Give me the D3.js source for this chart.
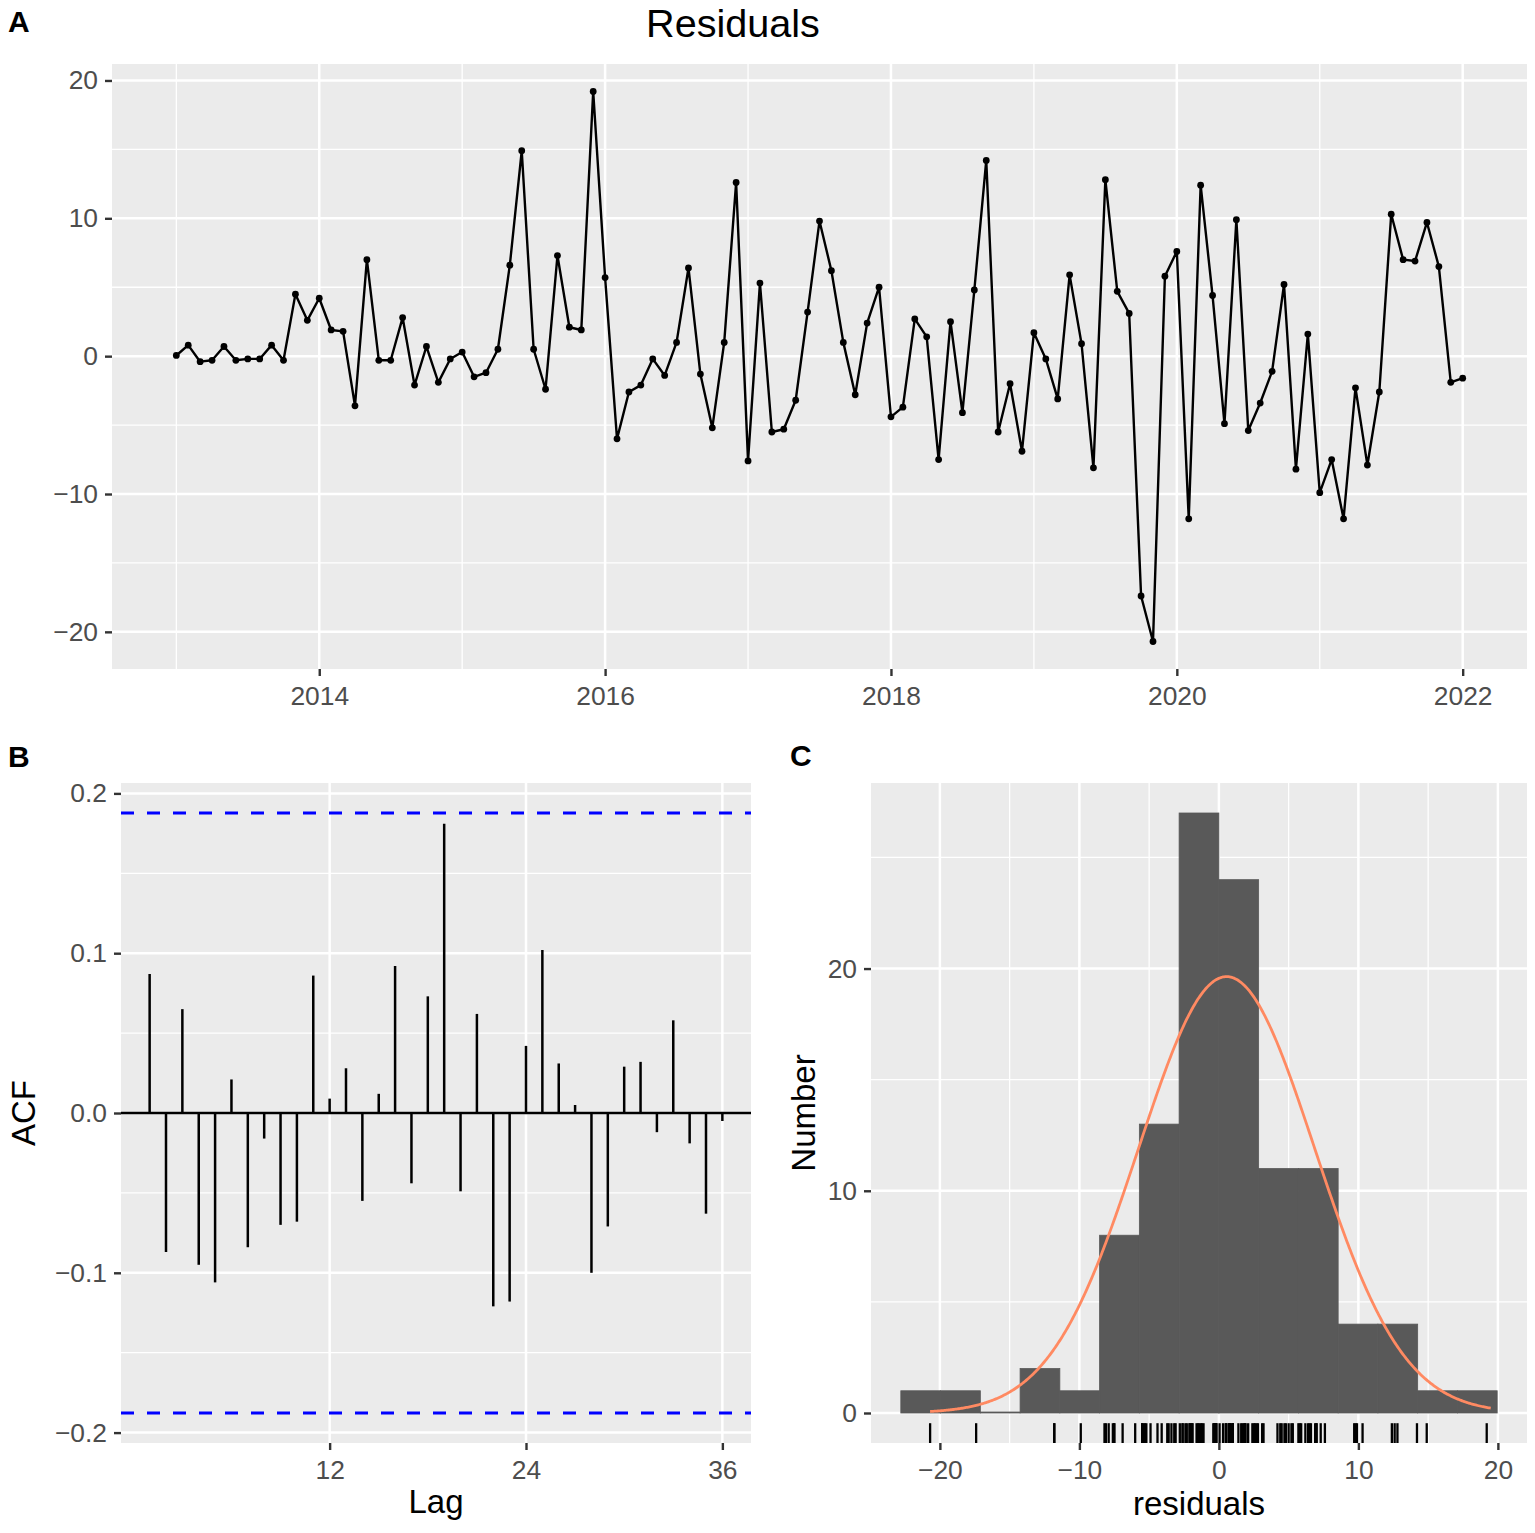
<!DOCTYPE html>
<html>
<head>
<meta charset="utf-8">
<script src="https://cdn.jsdelivr.net/npm/d3@7"></script>
<style>
  body { margin: 0; background: #fff; }
  svg { display: block; font-family: "Liberation Sans", Arial, sans-serif; }
</style>
</head>
<body>
<div id="chart"></div>
<script>
// Monthly residuals, Jan 2013 .. Jan 2022
const startYear = 2013;
const residuals = [
  0.05, 0.8, -0.4, -0.3, 0.7, -0.3, -0.2, -0.2, 0.8, -0.3, 4.5, 2.6,
  4.2, 1.9, 1.8, -3.6, 7.0, -0.3, -0.3, 2.8, -2.1, 0.7, -1.9, -0.2,
  0.3, -1.5, -1.2, 0.5, 6.6, 14.9, 0.5, -2.4, 7.3, 2.1, 1.9, 19.2,
  5.7, -6.0, -2.6, -2.1, -0.2, -1.4, 1.0, 6.4, -1.3, -5.2, 1.0, 12.6,
  -7.6, 5.3, -5.5, -5.3, -3.2, 3.2, 9.8, 6.2, 1.0, -2.8, 2.4, 5.0,
  -4.4, -3.7, 2.7, 1.4, -7.5, 2.5, -4.1, 4.8, 14.2, -5.5, -2.0, -6.9,
  1.7, -0.2, -3.1, 5.9, 0.9, -8.1, 12.8, 4.7, 3.1, -17.4, -20.7, 5.8,
  7.6, -11.8, 12.4, 4.4, -4.9, 9.9, -5.4, -3.4, -1.1, 5.2, -8.2, 1.6,
  -9.9, -7.5, -11.8, -2.3, -7.9, -2.6, 10.3, 7.0, 6.9, 9.7, 6.5, -1.9,
  -1.6
];

// ACF by lag 1..36
const acfLags = d3.range(1, 37);
const acfValues = [
  0.087, -0.087, 0.065, -0.095, -0.106, 0.021, -0.084, -0.016, -0.070, -0.068, 0.086, 0.009,
  0.028, -0.055, 0.012, 0.092, -0.044, 0.073, 0.181, -0.049, 0.062, -0.121, -0.118, 0.042,
  0.102, 0.031, 0.005, -0.100, -0.071, 0.029, 0.032, -0.012, 0.058, -0.019, -0.063, -0.005
];

// Histogram bins
const histEdges = [-22.8, -19.95, -17.1, -14.25, -11.4, -8.55, -5.7, -2.85, 0,
  2.85, 5.7, 8.55, 11.4, 14.25, 17.1, 19.95];
const histCounts = [1, 1, 0, 2, 1, 8, 13, 27, 24, 11, 11, 4, 4, 1, 1];

const yearTicks = [2014, 2016, 2018, 2020, 2022];
const yearMinor = [2013, 2015, 2017, 2019, 2021];
const residTicks = [-20, -10, 0, 10, 20];
const residMinor = [-15, -5, 5, 15];
const lagTicks = [12, 24, 36];
const acfTicks = [-0.2, -0.1, 0, 0.1, 0.2];
const acfMinor = [-0.15, -0.05, 0.05, 0.15];
const countTicks = [0, 10, 20];
const countMinor = [5, 15, 25];
const histXTicks = [-20, -10, 0, 10, 20];
const histXMinor = [-15, -5, 5, 15];

const W = 1535, H = 1533;
const svg = d3.select("#chart").append("svg").attr("width", W).attr("height", H);

const tickFont = 26.4, titleFont = 33;

function expand(ext, f = 0.05) {
  const r = ext[1] - ext[0];
  return [ext[0] - r * f, ext[1] + r * f];
}

// panel background + grid
function panel(box, x, y, xMaj, xMin, yMaj, yMin) {
  const g = svg.append("g");
  g.append("rect").attr("x", box.l).attr("y", box.t)
    .attr("width", box.r - box.l).attr("height", box.b - box.t).attr("fill", "#ebebeb");
  (xMin || []).forEach(v => g.append("line").attr("x1", x(v)).attr("x2", x(v))
    .attr("y1", box.t).attr("y2", box.b).attr("stroke", "#fff").attr("stroke-width", 1.3));
  (yMin || []).forEach(v => g.append("line").attr("y1", y(v)).attr("y2", y(v))
    .attr("x1", box.l).attr("x2", box.r).attr("stroke", "#fff").attr("stroke-width", 1.3));
  (xMaj || []).forEach(v => g.append("line").attr("x1", x(v)).attr("x2", x(v))
    .attr("y1", box.t).attr("y2", box.b).attr("stroke", "#fff").attr("stroke-width", 2.5));
  (yMaj || []).forEach(v => g.append("line").attr("y1", y(v)).attr("y2", y(v))
    .attr("x1", box.l).attr("x2", box.r).attr("stroke", "#fff").attr("stroke-width", 2.5));
  return g;
}

function styleAxis(g) {
  g.select(".domain").remove();
  g.selectAll(".tick line").attr("stroke", "#333").attr("stroke-width", 2.4);
  g.selectAll(".tick text").attr("fill", "#4d4d4d").style("font-size", tickFont + "px")
    .attr("font-family", null);
}

function axes(box, x, y, xVals, yVals, xFmt, yFmt) {
  svg.append("g").attr("transform", `translate(0,${box.b})`)
    .call(d3.axisBottom(x).tickValues(xVals).tickSize(7).tickPadding(10).tickFormat(xFmt))
    .call(styleAxis);
  svg.append("g").attr("transform", `translate(${box.l},0)`)
    .call(d3.axisLeft(y).tickValues(yVals).tickSize(7).tickPadding(7).tickFormat(yFmt))
    .call(styleAxis);
}

function label(txt, x, y) {
  svg.append("text").attr("x", x).attr("y", y).text(txt)
    .style("font-size", "30px").style("font-weight", "bold").attr("fill", "#000");
}

// ---------- A: residual series ----------
const boxA = { l: 112, r: 1527, t: 64, b: 669 };
const series = residuals.map((v, i) => ({ t: startYear + i / 12, v }));
const xA = d3.scaleLinear().domain(expand(d3.extent(series, d => d.t))).range([boxA.l, boxA.r]);
const yA = d3.scaleLinear().domain(expand(d3.extent(residuals))).range([boxA.b, boxA.t]);
const gA = panel(boxA, xA, yA, yearTicks, yearMinor, residTicks, residMinor);

gA.append("path").datum(series)
  .attr("d", d3.line().x(d => xA(d.t)).y(d => yA(d.v)))
  .attr("fill", "none").attr("stroke", "#000").attr("stroke-width", 2.4)
  .attr("stroke-linejoin", "round");
gA.selectAll("circle").data(series).enter().append("circle")
  .attr("cx", d => xA(d.t)).attr("cy", d => yA(d.v)).attr("r", 3.4).attr("fill", "#000");

axes(boxA, xA, yA, yearTicks, residTicks, d3.format("d"), d3.format("d"));

svg.append("text").attr("x", 733).attr("y", 37).attr("text-anchor", "middle")
  .style("font-size", "39.6px").attr("fill", "#000").text("Residuals");
label("A", 8, 32);

// ---------- B: ACF ----------
const boxB = { l: 121, r: 751, t: 783, b: 1443 };
const ci = 1.96 / Math.sqrt(residuals.length);
const xB = d3.scaleLinear().domain(expand(d3.extent(acfLags))).range([boxB.l, boxB.r]);
const acfMax = Math.max(ci, d3.max(acfValues, Math.abs));
const yB = d3.scaleLinear().domain(expand([-acfMax, acfMax])).range([boxB.b, boxB.t]);
const gB = panel(boxB, xB, yB, lagTicks, null, acfTicks, acfMinor);

gB.append("line").attr("x1", boxB.l).attr("x2", boxB.r)
  .attr("y1", yB(0)).attr("y2", yB(0)).attr("stroke", "#000").attr("stroke-width", 2.4);
gB.selectAll(".bar").data(acfValues).enter().append("line")
  .attr("x1", (d, i) => xB(acfLags[i])).attr("x2", (d, i) => xB(acfLags[i]))
  .attr("y1", yB(0)).attr("y2", d => yB(d))
  .attr("stroke", "#000").attr("stroke-width", 2.5);
[ci, -ci].forEach(c => gB.append("line").attr("x1", boxB.l).attr("x2", boxB.r)
  .attr("y1", yB(c)).attr("y2", yB(c)).attr("stroke", "#0000ff")
  .attr("stroke-width", 3).attr("stroke-dasharray", "13,13"));

axes(boxB, xB, yB, lagTicks, acfTicks, d3.format("d"), d3.format(".1f"));

svg.append("text").attr("x", (boxB.l + boxB.r) / 2).attr("y", 1513).attr("text-anchor", "middle")
  .style("font-size", titleFont + "px").attr("fill", "#000").text("Lag");
svg.append("text").attr("transform", `translate(35,${(boxB.t + boxB.b) / 2}) rotate(-90)`)
  .attr("text-anchor", "middle").style("font-size", titleFont + "px").attr("fill", "#000").text("ACF");
label("B", 8, 767);

// ---------- C: histogram ----------
const boxC = { l: 871, r: 1527, t: 783, b: 1443 };
const bins = histCounts.map((c, i) => ({ x0: histEdges[i], x1: histEdges[i + 1], c }));
const xC = d3.scaleLinear().domain(expand([histEdges[0], histEdges[histEdges.length - 1]])).range([boxC.l, boxC.r]);
const yC = d3.scaleLinear().domain(expand([0, d3.max(histCounts)])).range([boxC.b, boxC.t]);
const gC = panel(boxC, xC, yC, histXTicks, histXMinor, countTicks, countMinor);

gC.selectAll(".bin").data(bins).enter().append("rect")
  .attr("x", d => xC(d.x0)).attr("width", d => xC(d.x1) - xC(d.x0))
  .attr("y", d => yC(d.c) - (d.c === 0 ? 1 : 0))
  .attr("height", d => Math.max(yC(0) - yC(d.c), 1))
  .attr("fill", "#595959").attr("stroke", "#595959").attr("stroke-width", 0.8);

// fitted normal, scaled to counts
const mu = d3.mean(residuals), sd = d3.deviation(residuals);
const bw = histEdges[1] - histEdges[0];
const gx0 = Math.min(d3.min(residuals), mu - 3 * sd), gx1 = Math.max(d3.max(residuals), mu + 3 * sd);
const grid = d3.range(512).map(k => gx0 + (gx1 - gx0) * k / 511);
gC.append("path").datum(grid)
  .attr("d", d3.line().x(d => xC(d))
    .y(d => yC(residuals.length * bw * Math.exp(-0.5 * ((d - mu) / sd) ** 2) / (sd * Math.sqrt(2 * Math.PI)))))
  .attr("fill", "none").attr("stroke", "#ff8a62").attr("stroke-width", 2.8);

// rug
const rugLen = 0.03 * (boxC.b - boxC.t);
gC.selectAll(".rug").data(residuals).enter().append("line")
  .attr("x1", d => xC(d)).attr("x2", d => xC(d))
  .attr("y1", boxC.b).attr("y2", boxC.b - rugLen)
  .attr("stroke", "#000").attr("stroke-width", 2.3);

axes(boxC, xC, yC, histXTicks, countTicks, d3.format("d"), d3.format("d"));

svg.append("text").attr("x", (boxC.l + boxC.r) / 2).attr("y", 1515).attr("text-anchor", "middle")
  .style("font-size", titleFont + "px").attr("fill", "#000").text("residuals");
svg.append("text").attr("transform", `translate(815,${(boxC.t + boxC.b) / 2}) rotate(-90)`)
  .attr("text-anchor", "middle").style("font-size", titleFont + "px").attr("fill", "#000").text("Number");
label("C", 790, 766);
</script>
</body>
</html>
